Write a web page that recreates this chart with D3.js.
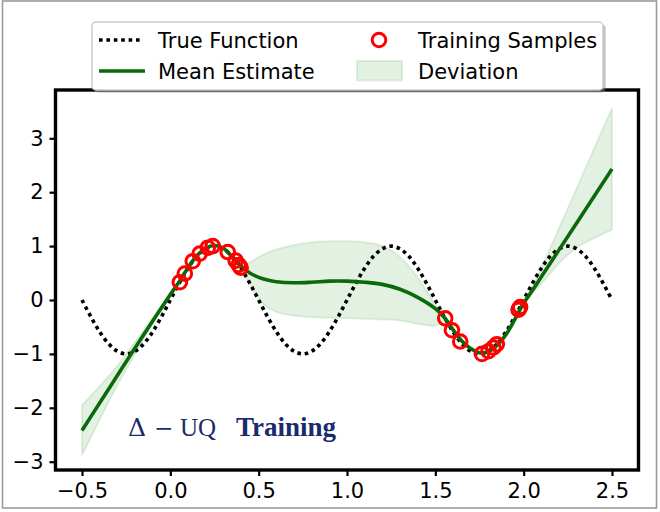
<!DOCTYPE html>
<html>
<head>
<meta charset="utf-8">
<script src="https://cdn.jsdelivr.net/npm/d3@7"></script>
<style>
  html, body { margin: 0; padding: 0; background: #fff; }
  svg { display: block; }
</style>
</head>
<body>
<svg id="chart" width="660" height="512"></svg>
<script>
// ---------------- data ----------------
const trueX = [-0.5,-0.45,-0.4,-0.35,-0.3,-0.25,-0.2,-0.15,-0.1,-0.05,
  0,0.05,0.1,0.15,0.2,0.25,0.3,0.35,0.4,0.45,
  0.5,0.55,0.6,0.65,0.7,0.75,0.8,0.85,0.9,0.95,
  1.0,1.05,1.1,1.15,1.2,1.25,1.3,1.35,1.4,1.45,
  1.5,1.55,1.6,1.65,1.7,1.75,1.8,1.85,1.9,1.95,
  2.0,2.05,2.1,2.15,2.2,2.25,2.3,2.35,2.4,2.45,2.5];
const trueY = [0,-0.31,-0.59,-0.81,-0.95,-1,-0.95,-0.81,-0.59,-0.31,
  0,0.31,0.59,0.81,0.95,1,0.95,0.81,0.59,0.31,
  0,-0.31,-0.59,-0.81,-0.95,-1,-0.95,-0.81,-0.59,-0.31,
  0,0.31,0.59,0.81,0.95,1,0.95,0.81,0.59,0.31,
  0,-0.31,-0.59,-0.81,-0.95,-1,-0.95,-0.81,-0.59,-0.31,
  0,0.31,0.59,0.81,0.95,1,0.95,0.81,0.59,0.31,0];

const estX = [-0.5,-0.4,-0.3,-0.2,-0.1,0,0.05,0.1,0.15,0.2,0.25,0.3,0.35,0.4,0.45,
  0.5,0.55,0.6,0.7,0.8,0.9,1.0,1.1,1.2,1.3,1.4,1.5,
  1.55,1.6,1.65,1.7,1.75,1.8,1.85,1.9,1.95,2.0,
  2.05,2.1,2.2,2.3,2.4,2.5];
const estMean = [-2.42,-1.91,-1.40,-0.89,-0.39,0.1,0.34,0.6,0.82,0.96,1.01,0.96,0.8,0.63,0.5,
  0.42,0.37,0.34,0.32,0.33,0.35,0.35,0.33,0.29,0.2,0.05,-0.16,
  -0.32,-0.55,-0.76,-0.9,-0.98,-0.96,-0.84,-0.64,-0.36,-0.06,
  0.18,0.43,0.93,1.43,1.93,2.43];
const estUpper = [-1.95,-1.6,-1.22,-0.78,-0.33,0.13,0.36,0.62,0.84,0.98,1.03,0.98,0.82,0.66,0.7,
  0.8,0.88,0.94,1.02,1.07,1.09,1.09,1.07,1.0,0.8,0.42,-0.08,
  -0.3,-0.53,-0.74,-0.88,-0.96,-0.94,-0.82,-0.62,-0.34,-0.03,
  0.24,0.6,1.33,2.07,2.82,3.56];
const estLower = [-2.88,-2.22,-1.58,-1.0,-0.45,0.07,0.32,0.58,0.8,0.94,0.99,0.94,0.78,0.58,0.3,
  0.02,-0.14,-0.22,-0.29,-0.32,-0.33,-0.34,-0.35,-0.36,-0.38,-0.44,-0.48,
  -0.38,-0.57,-0.78,-0.92,-1.0,-0.98,-0.86,-0.66,-0.38,-0.09,
  0.13,0.3,0.68,0.97,1.15,1.3];

const sampleX = [0.054,0.082,0.127,0.166,0.212,0.24,0.325,0.37,0.387,0.398,
  1.556,1.594,1.641,1.764,1.801,1.829,1.848,1.971,1.98];
const sampleY = [0.33,0.49,0.72,0.86,0.97,1.0,0.89,0.73,0.65,0.6,
  -0.34,-0.56,-0.77,-1.0,-0.95,-0.88,-0.82,-0.18,-0.13];

const xTicks = [-0.5,0.0,0.5,1.0,1.5,2.0,2.5];
const yTicks = [-3,-2,-1,0,1,2,3];
const legendLabels = ["True Function","Mean Estimate","Training Samples","Deviation"];

// ---------------- layout ----------------
const svg = d3.select("#chart");
const L = 55.5, R = 638.5, T = 90, B = 470;
const x = d3.scaleLinear().domain([-0.65, 2.65]).range([L, R]);
const y = d3.scaleLinear().domain([-3.154, 3.896]).range([B, T]);
const sansFont = "DejaVu Sans, sans-serif";
const fs = 21;

// outer frame
svg.append("rect").attr("x", 2.5).attr("y", 1).attr("width", 654).attr("height", 507)
  .attr("fill", "#fff").attr("stroke", "#9a9a9a").attr("stroke-width", 1.6);

const plot = svg.append("g");
plot.append("defs").append("clipPath").attr("id", "clip")
  .append("rect").attr("x", L).attr("y", T).attr("width", R - L).attr("height", B - T);
const g = plot.append("g").attr("clip-path", "url(#clip)");

// deviation band
const band = estX.map((v, i) => ({x: v, lo: estLower[i], hi: estUpper[i]}));
g.append("path").datum(band)
  .attr("d", d3.area().x(d => x(d.x)).y0(d => y(d.lo)).y1(d => y(d.hi)).curve(d3.curveMonotoneX))
  .attr("fill", "green").attr("fill-opacity", 0.11)
  .attr("stroke", "green").attr("stroke-opacity", 0.1).attr("stroke-width", 2);

// true function
const tf = trueX.map((v, i) => [v, trueY[i]]);
g.append("path").datum(tf)
  .attr("d", d3.line().x(d => x(d[0])).y(d => y(d[1])).curve(d3.curveCatmullRom))
  .attr("fill", "none").attr("stroke", "#000").attr("stroke-width", 3.6)
  .attr("stroke-dasharray", "3.6,3.8");

// mean estimate
const me = estX.map((v, i) => [v, estMean[i]]);
g.append("path").datum(me)
  .attr("d", d3.line().x(d => x(d[0])).y(d => y(d[1])).curve(d3.curveCatmullRom))
  .attr("fill", "none").attr("stroke", "#0a6a0a").attr("stroke-width", 3.6);

// training samples
g.selectAll("circle.s").data(sampleX.map((v, i) => [v, sampleY[i]])).enter()
  .append("circle").attr("class", "s")
  .attr("cx", d => x(d[0])).attr("cy", d => y(d[1])).attr("r", 6.8)
  .attr("fill", "none").attr("stroke", "#ff0000").attr("stroke-width", 3);

// annotation
const navy = "#1a2a6c";
const ann = svg.append("g").attr("fill", navy);
ann.append("text").attr("x", 128).attr("y", 436).attr("font-size", 25)
  .attr("font-family", "DejaVu Serif, serif").text("Δ");
ann.append("text").attr("x", 154).attr("y", 436).attr("font-size", 23)
  .attr("font-family", "DejaVu Serif, serif").text("−");
ann.append("text").attr("x", 180).attr("y", 436).attr("font-size", 25)
  .attr("font-family", "Liberation Serif, Times New Roman, serif").text("UQ");
ann.append("text").attr("x", 236).attr("y", 436).attr("font-size", 27).attr("font-weight", "bold")
  .attr("font-family", "Liberation Serif, Times New Roman, serif").text("Training");

// axes
const minusFmt = (v, f) => v < 0 ? "−" + f(Math.abs(v)) : f(v);
const xAxis = d3.axisBottom(x).tickValues(xTicks).tickFormat(d => minusFmt(d, a => a.toFixed(1))).tickSize(6).tickPadding(7);
const yAxis = d3.axisLeft(y).tickValues(yTicks).tickFormat(d => minusFmt(d, a => String(a))).tickSize(6).tickPadding(6);
const gx = svg.append("g").attr("transform", `translate(0,${B})`).call(xAxis);
const gy = svg.append("g").attr("transform", `translate(${L},0)`).call(yAxis);
[gx, gy].forEach(a => {
  a.select(".domain").remove();
  a.selectAll(".tick line").attr("stroke", "#000").attr("stroke-width", 2.2);
  a.selectAll(".tick text").attr("font-family", sansFont).attr("font-size", fs).attr("fill", "#000");
});

// spines
svg.append("rect").attr("x", L).attr("y", T).attr("width", R - L).attr("height", B - T)
  .attr("fill", "none").attr("stroke", "#000").attr("stroke-width", 3.4);

// legend
const lg = svg.append("g");
const lx = 92, ly = 22, lw = 511, lh = 68;
lg.append("rect").attr("x", lx + 2.5).attr("y", ly + 2.5).attr("width", lw).attr("height", lh)
  .attr("rx", 4).attr("fill", "#7f7f7f").attr("fill-opacity", 0.5);
lg.append("rect").attr("x", lx).attr("y", ly).attr("width", lw).attr("height", lh)
  .attr("rx", 4).attr("fill", "#fff").attr("stroke", "#cccccc").attr("stroke-width", 1.5);
const r1 = 40, r2 = 71;
lg.append("line").attr("x1", 99).attr("x2", 143).attr("y1", r1).attr("y2", r1)
  .attr("stroke", "#000").attr("stroke-width", 3.6).attr("stroke-dasharray", "3.6,3.8");
lg.append("line").attr("x1", 99).attr("x2", 145).attr("y1", r2).attr("y2", r2)
  .attr("stroke", "#0a6a0a").attr("stroke-width", 3.6);
lg.append("circle").attr("cx", 379).attr("cy", r1).attr("r", 6.8)
  .attr("fill", "none").attr("stroke", "#ff0000").attr("stroke-width", 3);
lg.append("rect").attr("x", 357).attr("y", 61).attr("width", 45).attr("height", 19.5)
  .attr("fill", "green").attr("fill-opacity", 0.11).attr("stroke", "green").attr("stroke-opacity", 0.1).attr("stroke-width", 2);
const lt = [[158, r1, legendLabels[0]], [158, r2, legendLabels[1]], [418, r1, legendLabels[2]], [418, r2, legendLabels[3]]];
lg.selectAll("text.l").data(lt).enter().append("text").attr("class", "l")
  .attr("x", d => d[0]).attr("y", d => d[1]).attr("dy", "0.36em")
  .attr("font-family", sansFont).attr("font-size", fs).attr("fill", "#000")
  .text(d => d[2]);
</script>
</body>
</html>
